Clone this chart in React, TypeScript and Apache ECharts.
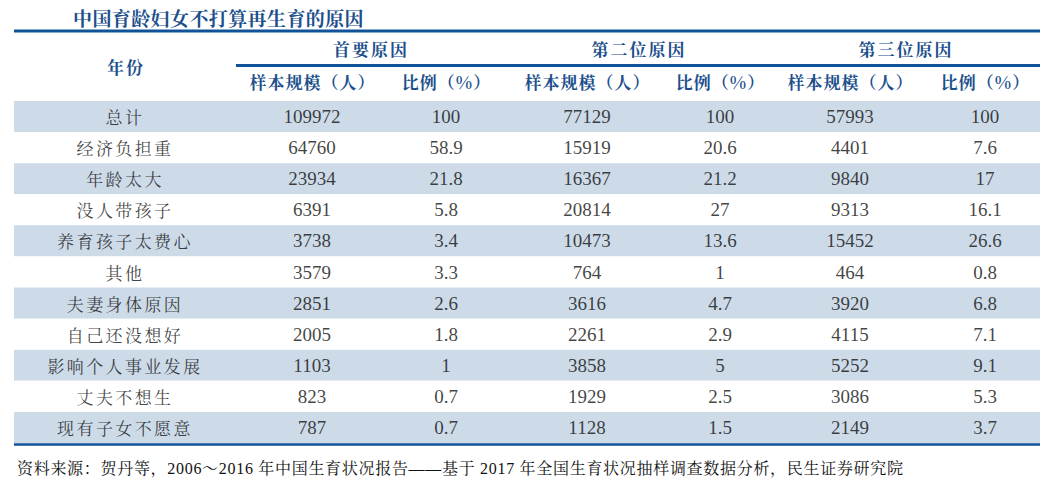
import React, { useEffect, useRef } from "react";
import * as echarts from "echarts";

const title = "中国育龄妇女不打算再生育的原因";
const rowHeader = "年份";
const groupHeaders = ["首要原因", "第二位原因", "第三位原因"];
const subHeaders = ["样本规模（人）", "比例（%）", "样本规模（人）", "比例（%）", "样本规模（人）", "比例（%）"];
const rows = ["总计", "经济负担重", "年龄太大", "没人带孩子", "养育孩子太费心", "其他", "夫妻身体原因", "自己还没想好", "影响个人事业发展", "丈夫不想生", "现有子女不愿意"];
const firstCount = [109972, 64760, 23934, 6391, 3738, 3579, 2851, 2005, 1103, 823, 787];
const firstPct = [100, 58.9, 21.8, 5.8, 3.4, 3.3, 2.6, 1.8, 1, 0.7, 0.7];
const secondCount = [77129, 15919, 16367, 20814, 10473, 764, 3616, 2261, 3858, 1929, 1128];
const secondPct = [100, 20.6, 21.2, 27, 13.6, 1, 4.7, 2.9, 5, 2.5, 1.5];
const thirdCount = [57993, 4401, 9840, 9313, 15452, 464, 3920, 4115, 5252, 3086, 2149];
const thirdPct = [100, 7.6, 17, 16.1, 26.6, 0.8, 6.8, 7.1, 9.1, 5.3, 3.7];
const source = "资料来源：贺丹等，2006～2016 年中国生育状况报告——基于 2017 年全国生育状况抽样调查数据分析，民生证券研究院";

// layout (not data)
const colX = [125, 312, 446, 587, 720, 850, 985];
const groupX = [370, 638, 905];
const TABLE_L = 14;
const TABLE_R = 1040;
const BLUE_LINE = "#0f5298";
const BLUE_TEXT = "#1c4f8c";
const BAND = "#cddbe9";
const CJK = "'Noto Serif CJK SC', 'Noto Sans CJK SC', sans-serif";
const SERIF_NUM = "'Liberation Serif', 'Noto Serif CJK SC', 'Noto Sans CJK SC', serif";

export default function App() {
  const ref = useRef<HTMLDivElement>(null);
  useEffect(() => {
    if (!ref.current) return;
    const chart = echarts.init(ref.current, undefined, { renderer: "svg" });
    const valueCols = [firstCount, firstPct, secondCount, secondPct, thirdCount, thirdPct];
    const cellSeries: any[] = valueCols.map((col, ci) => ({
      type: "scatter",
      silent: true,
      symbolSize: 1,
      itemStyle: { color: "rgba(0,0,0,0)" },
      data: col.map((v, ri) => [colX[ci + 1], rows[ri], v]),
      label: {
        show: true,
        position: "inside",
        formatter: (p: any) => String(p.value[2]),
        color: "#111",
        fontSize: 19,
        fontFamily: SERIF_NUM,
      },
      emphasis: { disabled: true },
    }));
    const labelSeries = {
      type: "scatter",
      silent: true,
      symbolSize: 1,
      itemStyle: { color: "rgba(0,0,0,0)" },
      data: rows.map((r) => [colX[0], r, r]),
      label: {
        show: true,
        position: "inside",
        formatter: (p: any) => String(p.value[2]),
        color: "#111",
        fontSize: 17,
        fontFamily: CJK,
      },
      emphasis: { disabled: true },
    };
    const hdrText = (text: string, x: number, y: number, size: number) => ({
      type: "text",
      x,
      y,
      silent: true,
      style: {
        text,
        fill: BLUE_TEXT,
        fontSize: size,
        fontWeight: "bold",
        fontFamily: CJK,
        align: "center",
        verticalAlign: "middle",
      },
    });
    const graphic: any[] = [
      {
        type: "text",
        x: 73,
        y: 17,
        silent: true,
        style: {
          text: title,
          fill: BLUE_TEXT,
          fontSize: 19,
          fontWeight: "bold",
          fontFamily: CJK,
          align: "left",
          verticalAlign: "middle",
        },
      },
      { type: "line", silent: true, shape: { x1: TABLE_L, y1: 31, x2: TABLE_R, y2: 31 }, style: { stroke: BLUE_LINE, lineWidth: 3 } },
      { type: "line", silent: true, shape: { x1: 236, y1: 65.5, x2: TABLE_R, y2: 65.5 }, style: { stroke: BLUE_LINE, lineWidth: 3 } },
      { type: "line", silent: true, shape: { x1: TABLE_L, y1: 444.5, x2: TABLE_R, y2: 444.5 }, style: { stroke: BLUE_LINE, lineWidth: 2.5 } },
      hdrText(rowHeader, colX[0] + 1, 66, 17),
      ...groupHeaders.map((g, i) => hdrText(g, groupX[i] + 1, 48, 17)),
      ...subHeaders.map((s, i) => hdrText(s, colX[i + 1] + 0.5, 81, 17)),
      {
        type: "text",
        x: 17,
        y: 468,
        silent: true,
        style: {
          text: source,
          fill: "#111",
          fontSize: 16,
          fontFamily: SERIF_NUM,
          align: "left",
          verticalAlign: "middle",
        },
      },
    ];
    chart.setOption({
      animation: false,
      grid: { left: TABLE_L, right: 1054 - TABLE_R, top: 101, height: 342 },
      xAxis: { type: "value", min: TABLE_L, max: TABLE_R, show: false },
      yAxis: {
        type: "category",
        data: rows,
        inverse: true,
        axisLine: { show: false },
        axisTick: { show: false },
        axisLabel: { show: false },
        splitLine: { show: false },
        splitArea: { show: true, areaStyle: { color: [BAND, "#ffffff"] } },
      },
      series: [labelSeries, ...cellSeries],
      graphic,
    });
    // letter spacing of the CJK texts, as in the reference typesetting
    const spacing = new Map<string, string>();
    rows.forEach((r) => spacing.set(r, "2.4px"));
    groupHeaders.forEach((g) => spacing.set(g, "2px"));
    spacing.set(rowHeader, "2px");
    subHeaders.forEach((s) => spacing.set(s, "1px"));
    spacing.set(title, "0.4px");
    spacing.set(source, "0.7px");
    ref.current.querySelectorAll("text").forEach((t) => {
      const s = spacing.get((t.textContent || "").trim());
      if (s) t.setAttribute("letter-spacing", s);
    });
    return () => chart.dispose();
  }, []);
  return <div ref={ref} style={{ position: "fixed", left: 0, top: 0, width: 1054, height: 488, background: "#fff" }} />;
}
